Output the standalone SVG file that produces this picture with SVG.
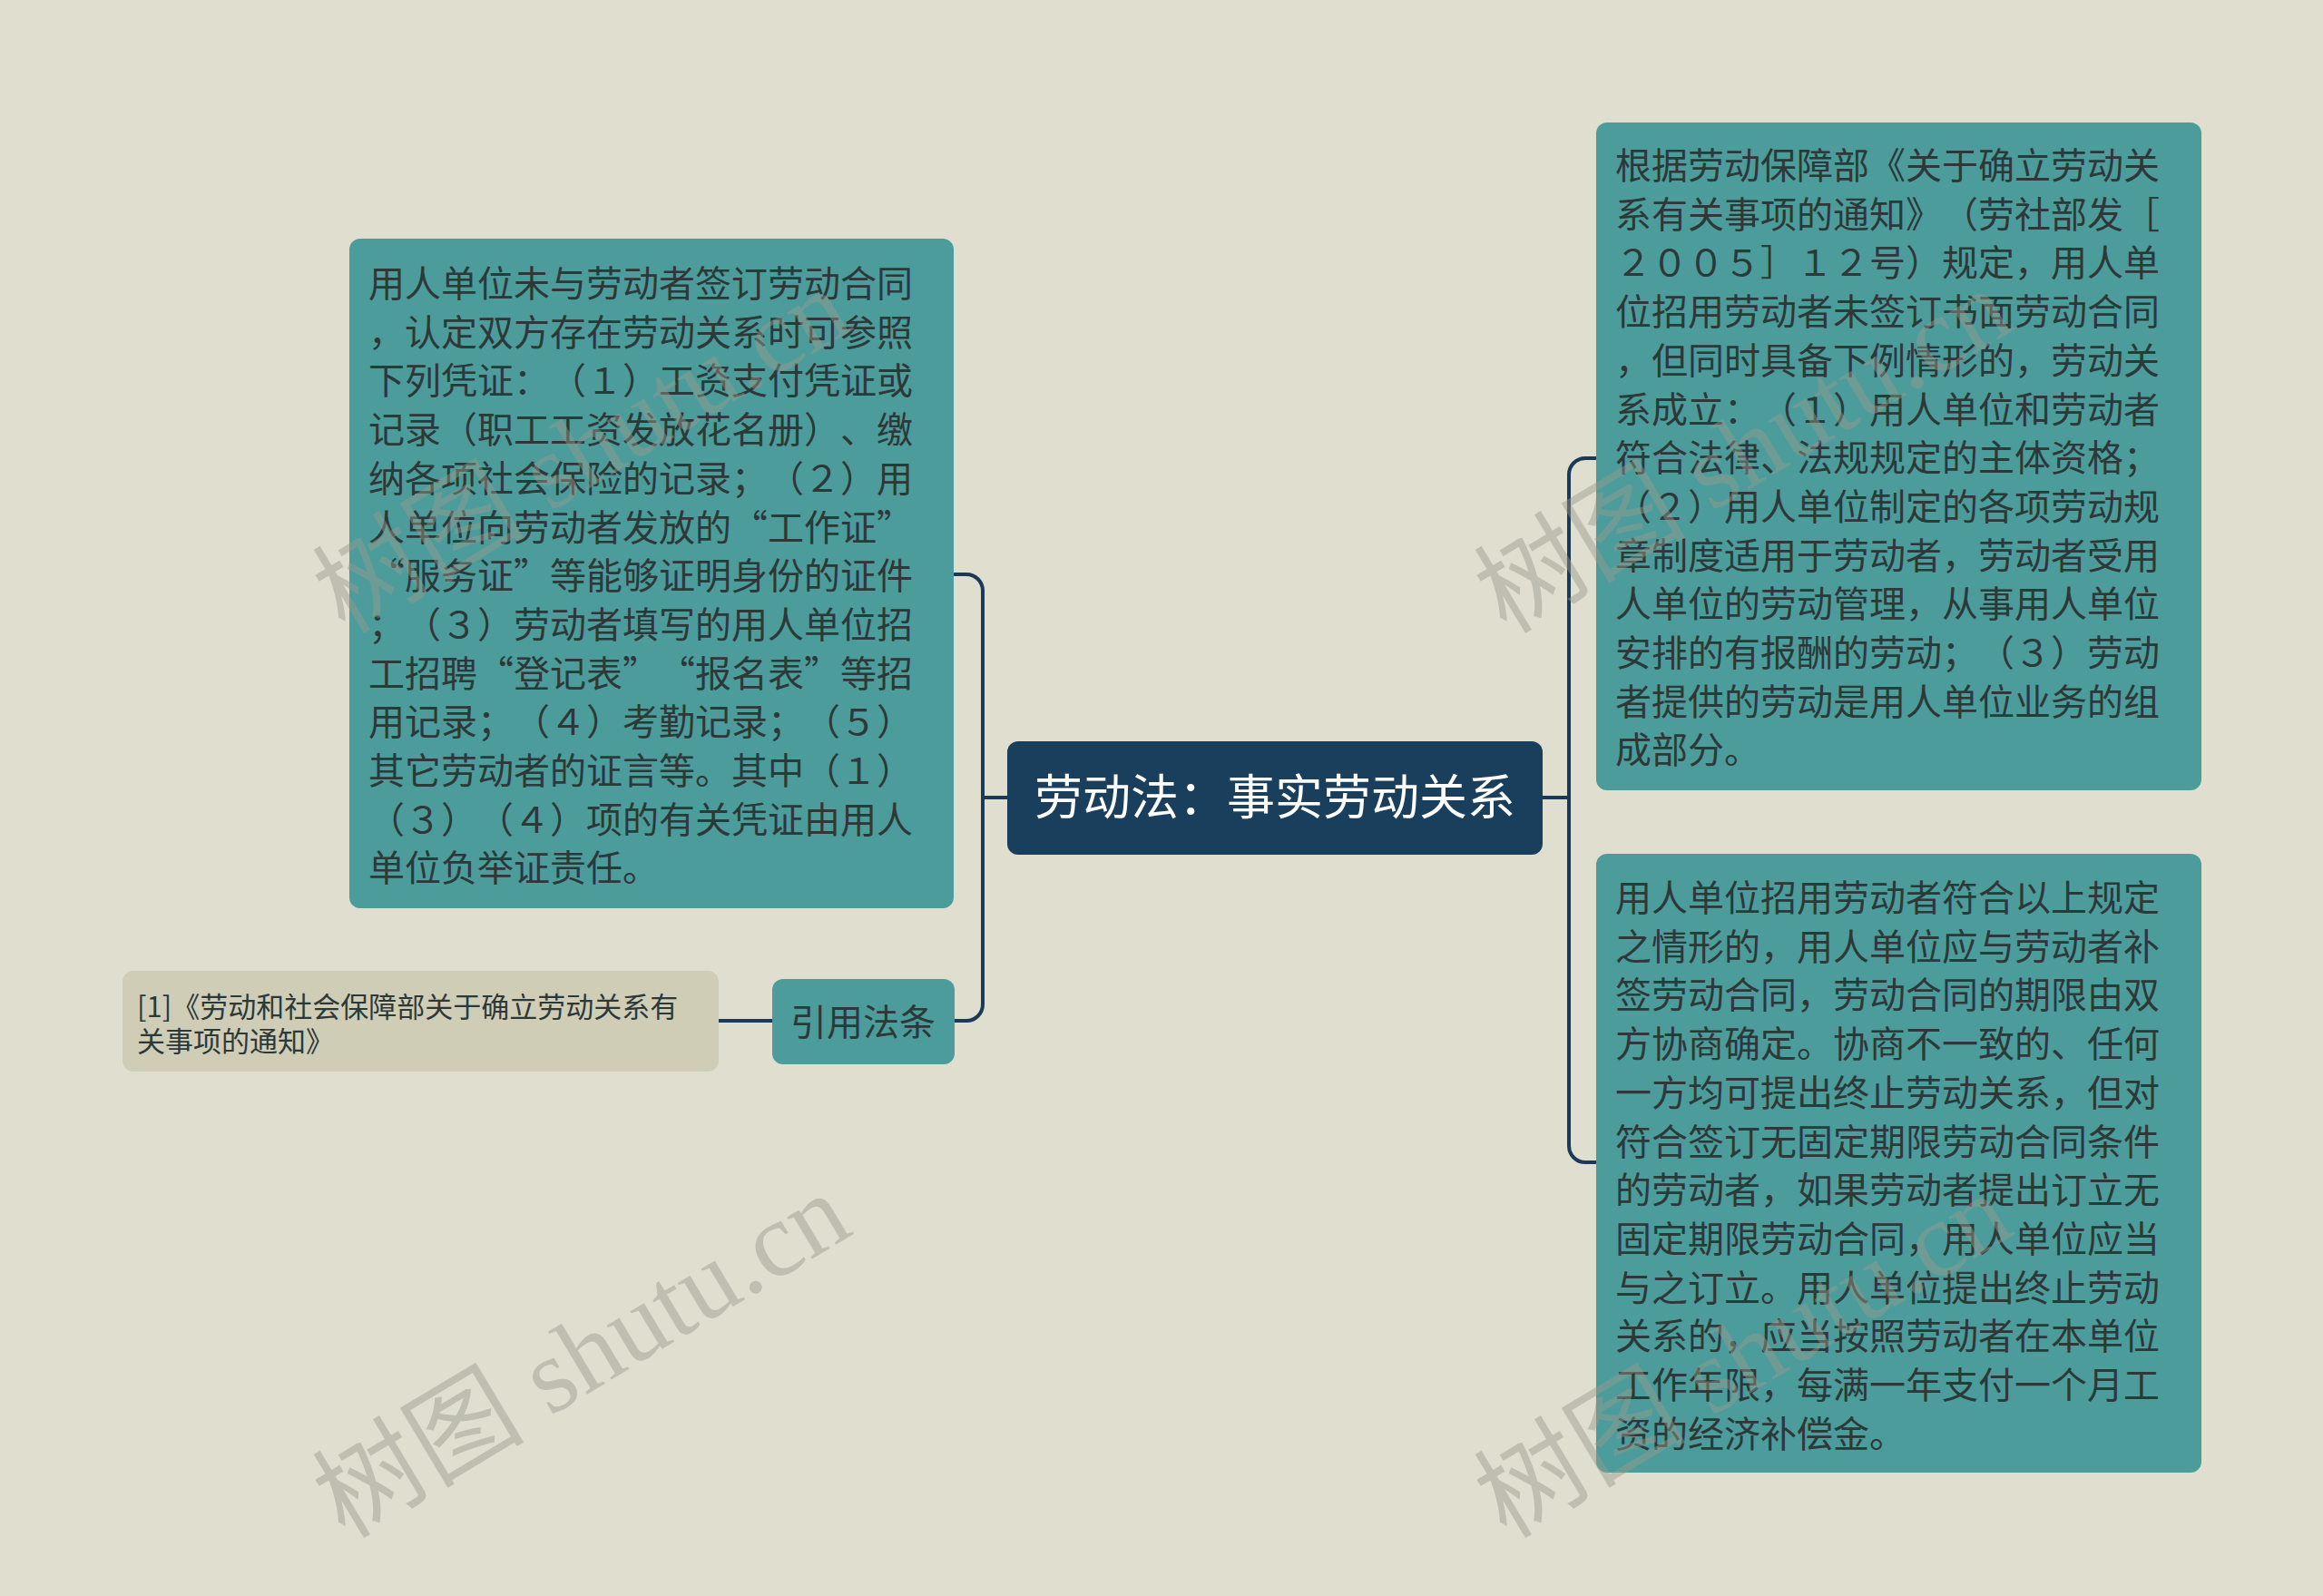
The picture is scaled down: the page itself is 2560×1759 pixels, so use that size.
<svg xmlns="http://www.w3.org/2000/svg" width="2560" height="1759" viewBox="0 0 2560 1759">
<style>
.bg{fill:#dfdecf}
.teal{fill:#4c9c9c}
.root{fill:#193f5d}
.refn{fill:#cfcdb5}
.t{font-family:"Noto Sans CJK SC","Noto Sans",sans-serif;fill:#2d3838;text-spacing-trim:space-all;font-feature-settings:"halt" 0,"chws" 0}
.body{font-size:40px}
.rt{font-size:53px;fill:#ffffff}
.sub{font-size:40px}
.rf{font-size:31px}
.conn{fill:none;stroke:#1a3a58;stroke-width:4;stroke-linecap:round}
.wm{font-family:"Liberation Serif","Noto Sans CJK SC",serif;font-size:117px;fill:#9a9a8e;opacity:0.45}
</style>
<rect class="bg" x="0" y="0" width="2560" height="1759"/>
<g id="connectors">
<path class="conn" d="M1110,879 H1083"/>
<path class="conn" d="M1052,633 H1065 A18,18 0 0 1 1083,651 V1107 A18,18 0 0 1 1065,1125 H1052"/>
<path class="conn" d="M1700,879 H1729"/>
<path class="conn" d="M1759,505 H1747 A18,18 0 0 0 1729,523 V1263 A18,18 0 0 0 1747,1281 H1759"/>
<path class="conn" d="M792,1125 H851"/>
</g>
<g id="root">
<rect class="root" x="1110" y="817" width="590" height="125" rx="12"/>
<text class="t rt" x="1405" y="898" text-anchor="middle">劳动法：事实劳动关系</text>
</g>
<g id="left-evidence">
<rect class="teal" x="385" y="263" width="666" height="738" rx="12"/>
<text class="t body" x="406">
<tspan x="406" y="327">用人单位未与劳动者签订劳动合同</tspan>
<tspan x="406" y="380.7">，认定双方存在劳动关系时可参照</tspan>
<tspan x="406" y="434.4">下列凭证：（１）工资支付凭证或</tspan>
<tspan x="406" y="488.1">记录（职工工资发放花名册）、缴</tspan>
<tspan x="406" y="541.8">纳各项社会保险的记录；（２）用</tspan>
<tspan x="406" y="595.5">人单位向劳动者发放的“工作证”</tspan>
<tspan x="406" y="649.2">“服务证”等能够证明身份的证件</tspan>
<tspan x="406" y="702.9">；（３）劳动者填写的用人单位招</tspan>
<tspan x="406" y="756.6">工招聘“登记表”“报名表”等招</tspan>
<tspan x="406" y="810.3">用记录；（４）考勤记录；（５）</tspan>
<tspan x="406" y="864">其它劳动者的证言等。其中（１）</tspan>
<tspan x="406" y="917.7">（３）（４）项的有关凭证由用人</tspan>
<tspan x="406" y="971.4">单位负举证责任。</tspan>
</text>
</g>
<g id="cite">
<rect class="teal" x="851" y="1079" width="201" height="94" rx="12"/>
<text class="t sub" x="951" y="1141" text-anchor="middle">引用法条</text>
</g>
<g id="cite-ref">
<rect class="refn" x="135" y="1070" width="657" height="111" rx="12"/>
<text class="t rf">
<tspan x="151" y="1121">[1]《劳动和社会保障部关于确立劳动关系有</tspan>
<tspan x="151" y="1159">关事项的通知》</tspan>
</text>
</g>
<g id="right-notice">
<rect class="teal" x="1759" y="135" width="667" height="736" rx="12"/>
<text class="t body">
<tspan x="1780" y="197">根据劳动保障部《关于确立劳动关</tspan>
<tspan x="1780" y="250.7">系有关事项的通知》（劳社部发［</tspan>
<tspan x="1780" y="304.4">２００５］１２号）规定，用人单</tspan>
<tspan x="1780" y="358.1">位招用劳动者未签订书面劳动合同</tspan>
<tspan x="1780" y="411.8">，但同时具备下例情形的，劳动关</tspan>
<tspan x="1780" y="465.5">系成立：（１）用人单位和劳动者</tspan>
<tspan x="1780" y="519.2">符合法律、法规规定的主体资格；</tspan>
<tspan x="1780" y="572.9">（２）用人单位制定的各项劳动规</tspan>
<tspan x="1780" y="626.6">章制度适用于劳动者，劳动者受用</tspan>
<tspan x="1780" y="680.3">人单位的劳动管理，从事用人单位</tspan>
<tspan x="1780" y="734">安排的有报酬的劳动；（３）劳动</tspan>
<tspan x="1780" y="787.7">者提供的劳动是用人单位业务的组</tspan>
<tspan x="1780" y="841.4">成部分。</tspan>
</text>
</g>
<g id="right-contract">
<rect class="teal" x="1759" y="941" width="667" height="682" rx="12"/>
<text class="t body">
<tspan x="1780" y="1004">用人单位招用劳动者符合以上规定</tspan>
<tspan x="1780" y="1057.7">之情形的，用人单位应与劳动者补</tspan>
<tspan x="1780" y="1111.4">签劳动合同，劳动合同的期限由双</tspan>
<tspan x="1780" y="1165.1">方协商确定。协商不一致的、任何</tspan>
<tspan x="1780" y="1218.8">一方均可提出终止劳动关系，但对</tspan>
<tspan x="1780" y="1272.5">符合签订无固定期限劳动合同条件</tspan>
<tspan x="1780" y="1326.2">的劳动者，如果劳动者提出订立无</tspan>
<tspan x="1780" y="1379.9">固定期限劳动合同，用人单位应当</tspan>
<tspan x="1780" y="1433.6">与之订立。用人单位提出终止劳动</tspan>
<tspan x="1780" y="1487.3">关系的，应当按照劳动者在本单位</tspan>
<tspan x="1780" y="1541">工作年限，每满一年支付一个月工</tspan>
<tspan x="1780" y="1594.7">资的经济补偿金。</tspan>
</text>
</g>
<g id="watermarks">
<text class="wm" transform="translate(380,700) rotate(-31)">树图 shutu.cn</text>
<text class="wm" transform="translate(1660,700) rotate(-31)">树图 shutu.cn</text>
<text class="wm" transform="translate(380,1697) rotate(-31)">树图 shutu.cn</text>
<text class="wm" transform="translate(1660,1697) rotate(-31)">树图 shutu.cn</text>
</g>
</svg>
